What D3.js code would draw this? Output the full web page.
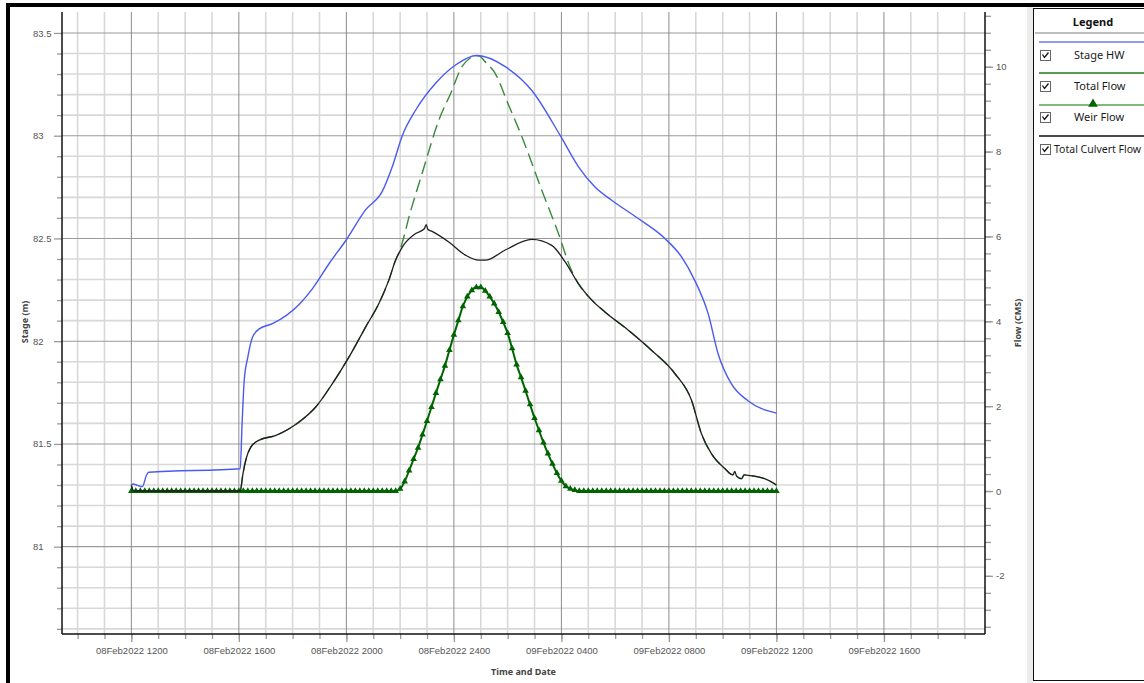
<!DOCTYPE html>
<html>
<head>
<meta charset="utf-8">
<title>Stage and Flow Hydrograph</title>
<script src="https://cdn.jsdelivr.net/npm/d3@7"></script>
<style>
  body { margin: 0; background: #fff; }
  svg { display: block; font-family: "Noto Sans", sans-serif; }
</style>
</head>
<body>
<svg id="chart" width="1144" height="683"></svg>
<script>
// time is in hours after 08Feb2022 1200
const stageHW = [
  [0, 81.30], [0.07, 81.305], [0.23, 81.298], [0.41, 81.292], [0.57, 81.35], [0.65, 81.362],
  [4.05, 81.379], [4.12, 81.6], [4.2, 81.81], [4.33, 81.92], [4.51, 82.02], [4.76, 82.06],
  [5.25, 82.085], [6.25, 82.18], [6.74, 82.256], [7.36, 82.378], [7.98, 82.49], [8.72, 82.64],
  [9.34, 82.73], [9.71, 82.85], [10.08, 83.0], [10.58, 83.125], [11.32, 83.255], [12.06, 83.344],
  [12.86, 83.39], [13.91, 83.336], [14.9, 83.22], [15.96, 83.0], [16.63, 82.85], [17.25, 82.75],
  [17.87, 82.686], [18.86, 82.597], [19.85, 82.5], [20.47, 82.41], [20.96, 82.296], [21.46, 82.134],
  [21.83, 81.939], [22.32, 81.793], [22.94, 81.71], [24, 81.65]
];

const culvertFlow = [
  [0, 0.13], [0.09, 0], [4.05, 0], [4.15, 0.4], [4.27, 0.76], [4.45, 1.04], [4.76, 1.2],
  [5.38, 1.31], [6.25, 1.63], [6.86, 1.98], [7.48, 2.53], [8.1, 3.16], [8.72, 3.87], [9.21, 4.42],
  [9.58, 4.97], [9.83, 5.44], [10.08, 5.75], [10.58, 6.07], [10.9, 6.18], [10.97, 6.28], [11.03, 6.17],
  [11.19, 6.12], [11.81, 5.87], [12.43, 5.56], [12.92, 5.44], [13.17, 5.44], [13.91, 5.68],
  [14.9, 5.93], [15.64, 5.79], [16.14, 5.4], [16.63, 4.89], [17.13, 4.5], [17.62, 4.22], [18.49, 3.79],
  [19.35, 3.32], [20.22, 2.77], [20.84, 2.14], [21.21, 1.35], [21.58, 0.88], [22.08, 0.53],
  [22.38, 0.38], [22.45, 0.46], [22.52, 0.35], [22.7, 0.29], [22.8, 0.38], [22.94, 0.37],
  [23.56, 0.29], [23.93, 0.17], [24, 0.14]
];

const totalFlow = [
  [0, 0.13], [0.09, 0], [4.05, 0], [4.15, 0.4], [4.27, 0.76], [4.45, 1.04], [4.76, 1.2],
  [5.38, 1.31], [6.25, 1.63], [6.86, 1.98], [7.48, 2.53], [8.1, 3.16], [8.72, 3.87], [9.21, 4.42],
  [9.58, 4.97], [9.83, 5.44], [9.96, 5.62], [10.4, 6.62], [10.82, 7.49], [11.44, 8.74], [11.9, 9.4],
  [12.3, 10.0], [12.6, 10.2], [12.92, 10.26], [13.2, 10.09], [13.54, 9.84], [14.0, 9.15],
  [14.53, 8.35], [15.27, 7.09], [15.89, 6.07], [16.33, 5.27], [16.63, 4.89], [17.13, 4.5],
  [17.62, 4.22], [18.49, 3.79], [19.35, 3.32], [20.22, 2.77], [20.84, 2.14], [21.21, 1.35],
  [21.58, 0.88], [22.08, 0.53], [22.38, 0.38], [22.45, 0.46], [22.52, 0.35], [22.7, 0.29],
  [22.8, 0.38], [22.94, 0.37], [23.56, 0.29], [23.93, 0.17], [24, 0.14]
];

// weir flow output every 10 minutes from 08Feb2022 1200
const weirStepHours = 10 / 60;
const weirFlow = [
  0, 0, 0, 0, 0, 0, 0, 0, 0, 0, 0, 0, 0, 0, 0, 0, 0, 0, 0, 0,
  0, 0, 0, 0, 0, 0, 0, 0, 0, 0, 0, 0, 0, 0, 0, 0, 0, 0, 0, 0,
  0, 0, 0, 0, 0, 0, 0, 0, 0, 0, 0, 0, 0, 0, 0, 0, 0, 0, 0, 0,
  0.05, 0.22, 0.48, 0.75, 1.02, 1.33, 1.65, 1.98, 2.31, 2.63,
  2.95, 3.32, 3.68, 4.02, 4.35, 4.58, 4.73, 4.80, 4.80, 4.72,
  4.58, 4.42, 4.22, 3.98, 3.72, 3.36, 2.98, 2.68, 2.36, 2.04,
  1.72, 1.43, 1.14, 0.88, 0.64, 0.42, 0.24, 0.11, 0.05, 0.02,
  0, 0, 0, 0, 0, 0, 0, 0, 0, 0, 0, 0, 0, 0, 0, 0, 0, 0, 0, 0,
  0, 0, 0, 0, 0, 0, 0, 0, 0, 0, 0, 0, 0, 0, 0, 0, 0, 0, 0, 0,
  0, 0, 0, 0, 0
];

const timeTickHours = [0, 4, 8, 12, 16, 20, 24, 28];
const timeTickLabels = ['08Feb2022 1200', '08Feb2022 1600', '08Feb2022 2000', '08Feb2022 2400',
                        '09Feb2022 0400', '09Feb2022 0800', '09Feb2022 1200', '09Feb2022 1600'];
const stageTicks = [81, 81.5, 82, 82.5, 83, 83.5];
const flowTicks = [-2, 0, 2, 4, 6, 8, 10];
const legendNames = ['Stage HW', 'Total Flow', 'Weir Flow', 'Total Culvert Flow'];

const plot = { left: 62, right: 985, top: 12, bottom: 634 };
const colors = { stage: '#4a5af0', total: '#3b8a3b', weir: '#006400', culvert: '#1e1e1e' };

const svg = d3.select('#chart');

const x = d3.scaleLinear().domain([-2.58, 31.76]).range([plot.left, plot.right]);
const yStage = d3.scaleLinear().domain([80.575, 83.602]).range([plot.bottom, plot.top]);
const yFlow = d3.scaleLinear().domain([-3.37, 11.29]).range([plot.bottom, plot.top]);


// outer frame
svg.append('rect').attr('x', 6).attr('y', 3).attr('width', 1138).attr('height', 4).attr('fill', '#000');
svg.append('rect').attr('x', 6).attr('y', 3).attr('width', 4).attr('height', 680).attr('fill', '#000');


// grid
const grid = svg.append('g');
const minorStage = d3.range(806, 836).map(d => d / 10).filter(d => !stageTicks.includes(d));
const hours = d3.range(-2, 32);

grid.selectAll('.hminor')
    .data(minorStage)
    .enter()
    .append('line')
    .attr('x1', plot.left).attr('x2', plot.right)
    .attr('y1', d => yStage(d)).attr('y2', d => yStage(d))
    .attr('stroke', '#d8d8d8').attr('stroke-width', 1.6);

grid.selectAll('.vminor')
    .data(hours.filter(h => h % 4 !== 0))
    .enter()
    .append('line')
    .attr('x1', d => x(d)).attr('x2', d => x(d))
    .attr('y1', plot.top).attr('y2', plot.bottom)
    .attr('stroke', '#d8d8d8').attr('stroke-width', 1.6);

grid.selectAll('.hmajor')
    .data(stageTicks)
    .enter()
    .append('line')
    .attr('x1', plot.left).attr('x2', plot.right)
    .attr('y1', d => yStage(d)).attr('y2', d => yStage(d))
    .attr('stroke', '#9a9a9a').attr('stroke-width', 1.1);

grid.selectAll('.vmajor')
    .data(timeTickHours)
    .enter()
    .append('line')
    .attr('x1', d => x(d)).attr('x2', d => x(d))
    .attr('y1', plot.top).attr('y2', plot.bottom)
    .attr('stroke', '#8c8c8c').attr('stroke-width', 1);


// axes
function styleAxis(g) {
  g.select('.domain').remove();
  g.selectAll('.tick line').attr('stroke', '#9a9a9a').attr('stroke-width', 1.3);
  g.selectAll('.tick text').attr('fill', '#555').style('font-size', '9.5px');
}

svg.append('g')
   .attr('transform', `translate(${plot.left},0)`)
   .call(d3.axisLeft(yStage).tickValues(minorStage).tickSize(5).tickFormat(''))
   .call(styleAxis);

svg.append('g')
   .attr('transform', `translate(${plot.left},0)`)
   .call(d3.axisLeft(yStage).tickValues(stageTicks).tickSize(8).tickFormat(d => String(d)))
   .call(styleAxis)
   .call(g => g.selectAll('.tick text').attr('x', 33 - plot.left).attr('text-anchor', 'start'));

svg.append('g')
   .attr('transform', `translate(${plot.right},0)`)
   .call(d3.axisRight(yFlow).tickValues(d3.range(-8, 29).map(i => i * 0.4)).tickSize(6).tickFormat(''))
   .call(styleAxis);

svg.append('g')
   .attr('transform', `translate(${plot.right},0)`)
   .call(d3.axisRight(yFlow).tickValues(flowTicks).tickSize(8).tickPadding(3).tickFormat(d => String(d)))
   .call(styleAxis);

svg.append('g')
   .attr('transform', `translate(0,${plot.bottom})`)
   .call(d3.axisBottom(x).tickValues(hours).tickSize(5).tickFormat(''))
   .call(styleAxis);

svg.append('g')
   .attr('transform', `translate(0,${plot.bottom})`)
   .call(d3.axisBottom(x).tickValues(timeTickHours).tickSize(8).tickPadding(5.5)
           .tickFormat((d, i) => timeTickLabels[i]))
   .call(styleAxis);

const axisLines = svg.append('g').attr('stroke', '#111').attr('stroke-width', 1.5);
axisLines.append('line').attr('x1', plot.left).attr('x2', plot.left).attr('y1', plot.top).attr('y2', plot.bottom);
axisLines.append('line').attr('x1', plot.right).attr('x2', plot.right).attr('y1', plot.top).attr('y2', plot.bottom);
axisLines.append('line').attr('x1', plot.left).attr('x2', plot.right).attr('y1', plot.bottom).attr('y2', plot.bottom);

svg.append('text')
   .attr('x', (plot.left + plot.right) / 2).attr('y', 674.5)
   .attr('text-anchor', 'middle').attr('fill', '#444')
   .style('font-size', '9px').style('font-weight', 'bold')
   .text('Time and Date');

svg.append('text')
   .attr('transform', 'translate(25,322) rotate(-90)')
   .attr('text-anchor', 'middle').attr('dy', '0.35em').attr('fill', '#444')
   .style('font-size', '9px').style('font-weight', 'bold')
   .text('Stage (m)');

svg.append('text')
   .attr('transform', 'translate(1018,323) rotate(-90)')
   .attr('text-anchor', 'middle').attr('dy', '0.35em').attr('fill', '#444')
   .style('font-size', '9px').style('font-weight', 'bold')
   .text('Flow (CMS)');


// series
const flowLine = d3.line().x(d => x(d[0])).y(d => yFlow(d[1])).curve(d3.curveMonotoneX);
const stageLine = d3.line().x(d => x(d[0])).y(d => yStage(d[1])).curve(d3.curveMonotoneX);
const weirPoints = weirFlow.map((v, i) => [i * weirStepHours, v]);

svg.append('path')
   .attr('d', flowLine(totalFlow))
   .attr('fill', 'none').attr('stroke', colors.total)
   .attr('stroke-width', 1.4).attr('stroke-dasharray', '13,6');

svg.append('path')
   .attr('d', flowLine(weirPoints))
   .attr('fill', 'none').attr('stroke', colors.weir).attr('stroke-width', 2);

svg.append('g')
   .selectAll('path')
   .data(weirPoints)
   .enter()
   .append('path')
   .attr('transform', d => `translate(${x(d[0])},${yFlow(d[1])})`)
   .attr('d', d3.symbol(d3.symbolTriangle, 19))
   .attr('fill', colors.weir);

svg.append('path')
   .attr('d', flowLine(culvertFlow))
   .attr('fill', 'none').attr('stroke', colors.culvert).attr('stroke-width', 1.3);

svg.append('path')
   .attr('d', stageLine(stageHW))
   .attr('fill', 'none').attr('stroke', colors.stage).attr('stroke-width', 1.4);


// legend panel
svg.append('rect').attr('x', 1027).attr('y', 7).attr('width', 6).attr('height', 676).attr('fill', '#ececec');
svg.append('rect')
   .attr('x', 1033.5).attr('y', 8.5).attr('width', 120).attr('height', 672)
   .attr('fill', '#fff').attr('stroke', '#111').attr('stroke-width', 1);

svg.append('text')
   .attr('x', 1093).attr('y', 22).attr('dy', '0.35em')
   .attr('text-anchor', 'middle').attr('fill', '#111')
   .style('font-size', '11px').style('font-weight', 'bold')
   .text('Legend');
svg.append('line').attr('x1', 1035).attr('x2', 1144).attr('y1', 33).attr('y2', 33)
   .attr('stroke', '#a8a8a8').attr('stroke-width', 1.5);

const legendRows = [
  { lineY: 42, color: '#6f78ee', boxY: 50, textX: 1074, size: 11 },
  { lineY: 73, color: '#1f7a1f', boxY: 81, textX: 1074, size: 11 },
  { lineY: 105, color: '#55a455', boxY: 112, textX: 1074, size: 11, marker: true },
  { lineY: 136, color: '#111', boxY: 144, textX: 1054, size: 10.5 }
];

const rows = svg.append('g')
                .selectAll('g')
                .data(legendNames)
                .enter()
                .append('g');

rows.append('line')
    .attr('x1', 1039).attr('x2', 1144)
    .attr('y1', (d, i) => legendRows[i].lineY).attr('y2', (d, i) => legendRows[i].lineY)
    .attr('stroke', (d, i) => legendRows[i].color).attr('stroke-width', 1.6);

rows.filter((d, i) => legendRows[i].marker)
    .append('path')
    .attr('transform', `translate(1093,${legendRows[2].lineY - 1})`)
    .attr('d', d3.symbol(d3.symbolTriangle, 40))
    .attr('fill', colors.weir);

rows.append('rect')
    .attr('x', 1040.5).attr('y', (d, i) => legendRows[i].boxY + 0.5)
    .attr('width', 10).attr('height', 10)
    .attr('fill', '#fff').attr('stroke', '#666');

rows.append('path')
    .attr('d', (d, i) => {
      const y0 = legendRows[i].boxY;
      return `M1042.5,${y0 + 4.5} L1044.5,${y0 + 7.5} L1048.5,${y0 + 2.5}`;
    })
    .attr('fill', 'none').attr('stroke', '#111').attr('stroke-width', 1.3);

rows.append('text')
    .attr('x', (d, i) => legendRows[i].textX)
    .attr('y', (d, i) => legendRows[i].boxY + 5)
    .attr('dy', '0.35em').attr('fill', '#1a1a1a')
    .style('font-size', (d, i) => `${legendRows[i].size}px`)
    .text(d => d);
</script>
</body>
</html>
